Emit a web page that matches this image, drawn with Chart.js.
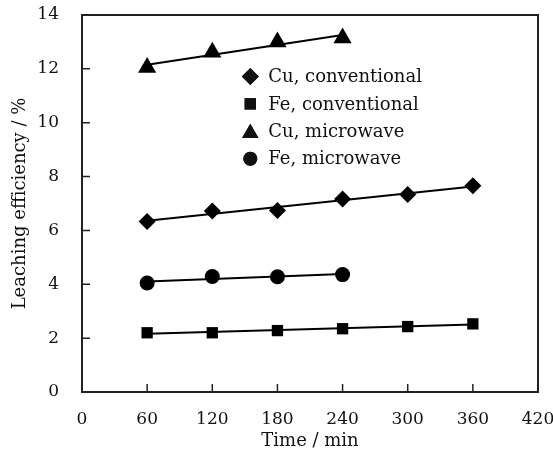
<!DOCTYPE html>
<html>
<head>
<meta charset="utf-8">
<script src="https://cdn.jsdelivr.net/npm/chart.js@4.4.1/dist/chart.umd.min.js"></script>
<style>
  html, body { margin: 0; padding: 0; background: #fff; }
  #wrap { width: 553px; height: 458px; }
</style>
</head>
<body>
<div id="wrap"><canvas id="chart" width="553" height="458"></canvas></div>
<script>
// 数据
const timeConv = [60, 120, 180, 240, 300, 360];
const timeMw = [60, 120, 180, 240];
const cuConventional = [6.33, 6.72, 6.74, 7.17, 7.33, 7.66];
const feConventional = [2.2, 2.2, 2.28, 2.35, 2.43, 2.53];
const cuMicrowave = [12.05, 12.62, 13.0, 13.15];
const feMicrowave = [4.05, 4.29, 4.28, 4.36];
const xTicks = [0, 60, 120, 180, 240, 300, 360, 420];
const yTicks = [0, 2, 4, 6, 8, 10, 12, 14];

const FONT = 'DejaVu Serif';

function toPoints(xs, ys) {
    return xs.map((x, i) => ({ x: x, y: ys[i] }));
}

// 线性拟合
function fitLine(xs, ys) {
    const n = xs.length;
    const mx = xs.reduce((a, b) => a + b, 0) / n;
    const my = ys.reduce((a, b) => a + b, 0) / n;
    let sxy = 0, sxx = 0;
    xs.forEach((x, i) => {
        sxy += (x - mx) * (ys[i] - my);
        sxx += (x - mx) * (x - mx);
    });
    const k = sxy / sxx;
    const b = my - k * mx;
    const x0 = xs[0], x1 = xs[n - 1];
    return [{ x: x0, y: k * x0 + b }, { x: x1, y: k * x1 + b }];
}

const series = [
    { label: 'Cu, conventional', xs: timeConv, ys: cuConventional, style: 'rectRot', r: 8.5 },
    { label: 'Fe, conventional', xs: timeConv, ys: feConventional, style: 'rect', r: 8 },
    { label: 'Cu, microwave', xs: timeMw, ys: cuMicrowave, style: 'triangle', r: 10.5 },
    { label: 'Fe, microwave', xs: timeMw, ys: feMicrowave, style: 'circle', r: 7.5 }
];

const datasets = [];
series.forEach(s => {
    datasets.push({
        label: s.label + ' fit',
        data: fitLine(s.xs, s.ys),
        showLine: true,
        borderColor: '#000',
        borderWidth: 2,
        pointRadius: 0,
        order: 2
    });
});
series.forEach(s => {
    datasets.push({
        label: s.label,
        data: toPoints(s.xs, s.ys),
        showLine: false,
        pointStyle: s.style,
        pointRadius: s.r,
        backgroundColor: '#000',
        borderColor: '#000',
        borderWidth: 0,
        order: 1
    });
});

// 边框、内向刻度和图例
const framePlugin = {
    id: 'frame',
    afterDraw(chart) {
        const ctx = chart.ctx;
        const a = chart.chartArea;
        const xs = chart.scales.x, ys = chart.scales.y;
        ctx.save();
        ctx.strokeStyle = '#222';
        ctx.lineWidth = 2;
        ctx.strokeRect(a.left, a.top, a.right - a.left, a.bottom - a.top);
        ctx.lineWidth = 1.5;
        ctx.beginPath();
        xTicks.forEach(v => {
            const px = xs.getPixelForValue(v);
            ctx.moveTo(px, a.bottom);
            ctx.lineTo(px, a.bottom - 8);
        });
        yTicks.forEach(v => {
            const py = ys.getPixelForValue(v);
            ctx.moveTo(a.left, py);
            ctx.lineTo(a.left + 8, py);
        });
        ctx.stroke();

        // 图例
        const lx = xs.getPixelForValue(155);
        let ly = ys.getPixelForValue(11.72);
        const step = ys.getPixelForValue(10.7) - ys.getPixelForValue(11.72);
        ctx.font = '18px "' + FONT + '"';
        ctx.textBaseline = 'middle';
        ctx.fillStyle = '#111';
        series.forEach(s => {
            const r = s.style === 'triangle' ? 9.5 : (s.style === 'circle' ? 7 : s.r);
            const cy = s.style === 'triangle' ? ly + 2 : ly;
            Chart.helpers.drawPoint(ctx, { pointStyle: s.style, radius: r, borderWidth: 0 }, lx, cy);
            ctx.fill();
            ctx.fillText(s.label, lx + 18, ly + 1);
            ly += step;
        });
        ctx.restore();
    }
};

new Chart(document.getElementById('chart'), {
    type: 'scatter',
    data: { datasets: datasets },
    plugins: [framePlugin],
    options: {
        responsive: false,
        animation: false,
        layout: { padding: { top: 15, right: 15, left: 0, bottom: 0 } },
        plugins: {
            legend: { display: false },
            tooltip: { enabled: false }
        },
        scales: {
            x: {
                type: 'linear',
                min: 0,
                max: 420,
                afterBuildTicks(scale) {
                    scale.ticks = xTicks.map(v => ({ value: v }));
                },
                afterFit(scale) {
                    scale.height = 66;
                    scale.paddingLeft = 0;
                    scale.paddingRight = 0;
                },
                grid: { display: false },
                border: { display: false },
                ticks: {
                    color: '#111',
                    padding: 9,
                    maxRotation: 0,
                    font: { family: FONT, size: 17 }
                },
                title: {
                    display: true,
                    text: 'Time / min',
                    color: '#111',
                    padding: { top: 0, bottom: 6 },
                    font: { family: FONT, size: 18 }
                }
            },
            y: {
                type: 'linear',
                min: 0,
                max: 14,
                afterBuildTicks(scale) {
                    scale.ticks = yTicks.map(v => ({ value: v }));
                },
                afterFit(scale) {
                    scale.width = 82;
                    scale.paddingTop = 0;
                    scale.paddingBottom = 0;
                },
                grid: { display: false },
                border: { display: false },
                ticks: {
                    color: '#111',
                    padding: 15,
                    font: { family: FONT, size: 17 }
                },
                title: {
                    display: true,
                    text: 'Leaching efficiency / %',
                    color: '#111',
                    padding: { top: 10, bottom: 0 },
                    font: { family: FONT, size: 18 }
                }
            }
        }
    }
});
</script>
</body>
</html>
